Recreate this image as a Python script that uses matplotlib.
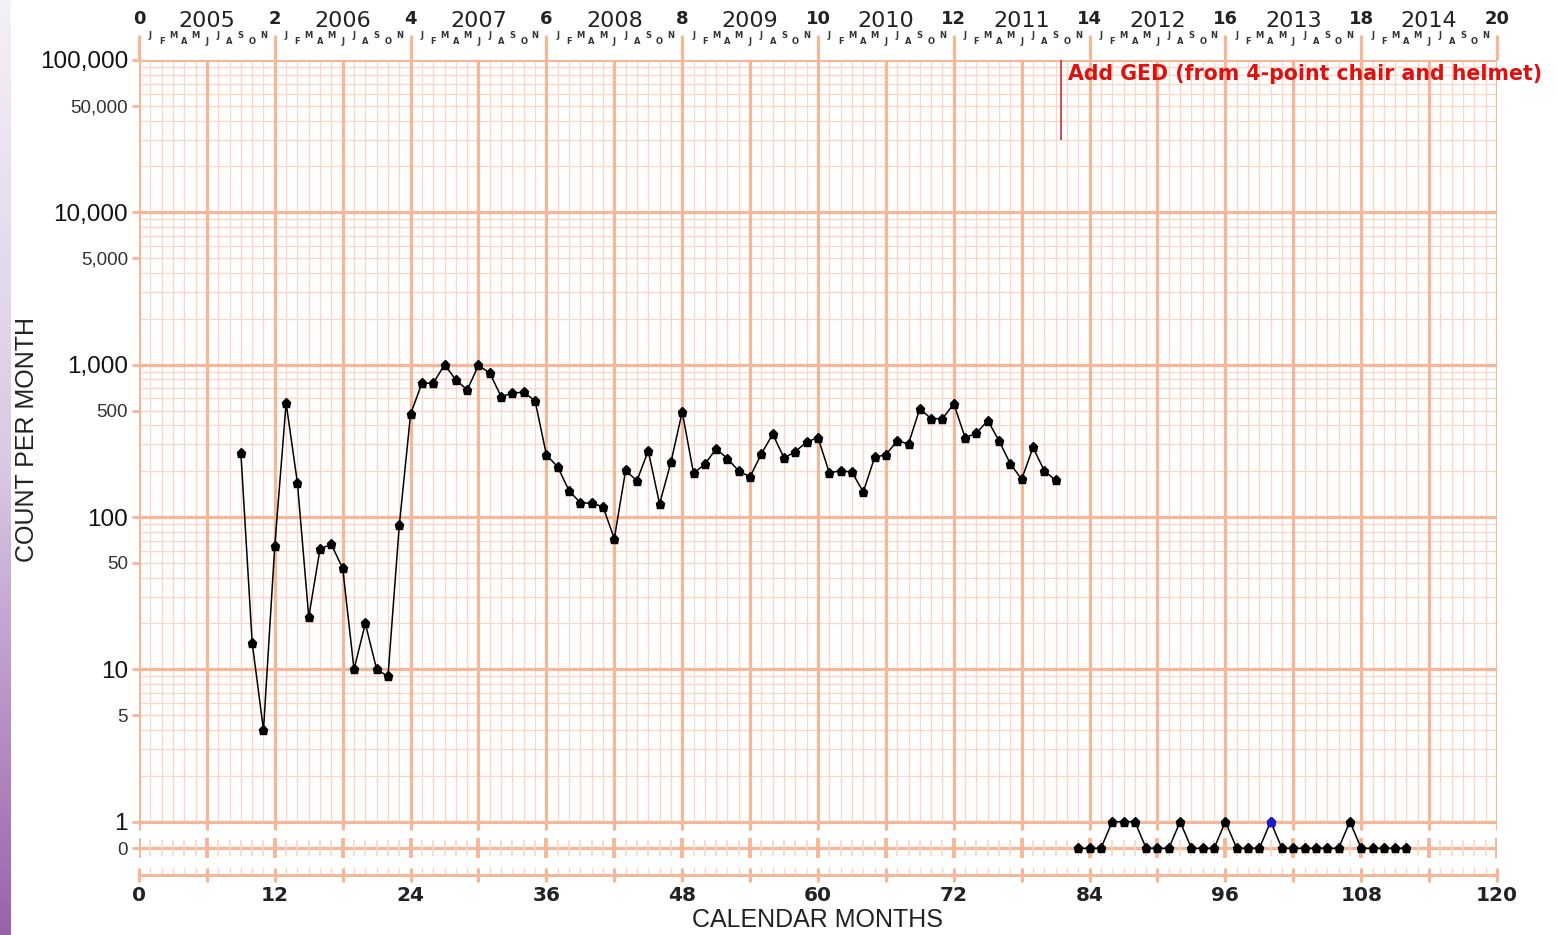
import numpy as np
import matplotlib.pyplot as plt
from matplotlib.colors import LinearSegmentedColormap

# dados (contagem por mes)
meses_a = np.arange(9, 82)
contagem_a = [265, 15, 4, 65, 560, 167, 22, 62, 66, 46, 10, 20, 10, 9, 88, 475,
              755, 755, 1000, 795, 683, 990, 880, 618, 650, 660, 578,
              256, 213, 149, 124, 123, 117, 72, 202, 173, 272, 122, 228, 490,
              194, 222, 280, 242, 200, 184, 260, 350, 244, 269, 311, 332,
              195, 201, 197, 146, 246, 257, 316, 303, 515, 441, 443, 553,
              332, 355, 430, 316, 223, 177, 286, 201, 174]

meses_b = np.arange(83, 113)
contagem_b = [0, 0, 0, 1, 1, 1, 0, 0, 0, 1, 0, 0, 0, 1, 0, 0, 0, 1,
              0, 0, 0, 0, 0, 0, 1, 0, 0, 0, 0, 0]

mes_azul = [100]
contagem_azul = [1]

anos = list(range(2005, 2015))
letras_mes = ['J', 'F', 'M', 'A', 'M', 'J', 'J', 'A', 'S', 'O', 'N']
y_ticks = [0, 1, 5, 10, 50, 100, 500, 1000, 5000, 10000, 50000, 100000]
y_labels = ['0', '1', '5', '10', '50', '100', '500', '1,000', '5,000',
            '10,000', '50,000', '100,000']
anotacao = 'Add GED (from 4-point chair and helmet)'
mes_anotacao = 81.5

GROSSA = '#F6B698'
FINA = '#F9D6C5'
NARROW = ['Liberation Sans Narrow', 'DejaVu Sans Condensed', 'DejaVu Sans']
ARIAL = ['Liberation Sans', 'DejaVu Sans']

# escala: log acima de 1, linear (faixa do zero) abaixo
K = 0.175


def fwd(v):
    v = np.asarray(v, dtype=float)
    return np.where(v >= 1, np.log10(np.maximum(v, 1)), (v - 1) * K)


def inv(y):
    y = np.asarray(y, dtype=float)
    return np.where(y >= 0, 10 ** np.clip(y, 0, 12), y / K + 1)


fig = plt.figure(figsize=(15.58, 9.35), dpi=100)

# faixa roxa na esquerda
faixa = fig.add_axes([0, 0, 11 / 1558, 1])
cmap = LinearSegmentedColormap.from_list('roxo', ['#f4f0f7', '#d9c8e3', '#9a62ad'])
faixa.imshow(np.linspace(0, 1, 200).reshape(-1, 1), aspect='auto', cmap=cmap)
faixa.axis('off')

ax = fig.add_axes([139 / 1558, 1 - 875 / 935, 1358 / 1558, 815 / 935])
ax.set_yscale('function', functions=(fwd, inv))
ax.set_xlim(0, 120)
ax.set_ylim(-1, 1e5)

# grade
todos = np.arange(0, 121)
finos = todos[todos % 6 != 0]
seis = np.arange(0, 121, 6)
doze = np.arange(0, 121, 12)
menores = [m * 10 ** d for d in range(5) for m in range(2, 10)]
decadas = [1, 10, 100, 1000, 10000, 100000]

ax.hlines(menores, 0, 120, color=FINA, lw=0.9, zorder=1)
ax.vlines(finos, 1, 1e5, color=FINA, lw=0.9, zorder=1)
ax.hlines(decadas, 0, 120, color=GROSSA, lw=2.3, zorder=2)
ax.vlines(seis, 0.7, 1e5, color=GROSSA, lw=2.3, zorder=2)
ax.vlines(doze, 1e5, 1.46e5, color=GROSSA, lw=2.3, zorder=2, clip_on=False)

# faixa do zero
ax.hlines(0, 0, 120, color=GROSSA, lw=2.3, zorder=2)
ax.vlines(finos, -0.28, 0.33, color=FINA, lw=1.2, zorder=2)
ax.vlines(seis, -0.35, 0.4, color=GROSSA, lw=2.8, zorder=2)

# dados
ax.plot(meses_a, contagem_a, color='black', lw=1.1, marker='p', ms=6.5, zorder=5)
ax.plot(meses_b, contagem_b, color='black', lw=1.1, marker='p', ms=6.5, zorder=5)
ax.plot(mes_azul, contagem_azul, ls='none', marker='p', ms=6.5, color='#1a1acc', zorder=6)

# anotacao
ax.vlines(mes_anotacao, 3e4, 1e5, color='#C03040', lw=1.2, zorder=4)
ax.text(mes_anotacao + 0.6, 8.1e4, anotacao, color='#DD1111', fontsize=14.8,
        fontweight='bold', family='DejaVu Sans', va='center', clip_on=False, zorder=6)

# eixos
for lado in ['left', 'right', 'top']:
    ax.spines[lado].set_visible(False)
ax.spines['bottom'].set_color(GROSSA)
ax.spines['bottom'].set_linewidth(2.2)

ax.set_xticks(seis)
ax.set_xticklabels([str(m) if m % 12 == 0 else '' for m in seis],
                   fontsize=14.5, fontweight='bold', family=NARROW)
ax.set_xticks(finos, minor=True)
ax.tick_params(axis='x', which='major', direction='inout', length=10, width=2.3,
               color=GROSSA, pad=3, labelcolor='#222222')
ax.tick_params(axis='x', which='minor', direction='in', length=6, width=1,
               color=FINA)

ax.set_yticks(y_ticks)
ax.set_yticklabels(y_labels, family=ARIAL, color='#222222')
ax.yaxis.set_minor_locator(plt.NullLocator())
ax.tick_params(axis='y', which='major', length=5, width=2, color=GROSSA, pad=3)
for t, lab in zip(ax.get_yticklabels(), y_labels):
    if lab in ['1', '10', '100', '1,000', '10,000', '100,000']:
        t.set_fontsize(17.5)
        t.set_color('#111111')
    else:
        t.set_fontsize(13.5)
        t.set_color('#333333')

ax.set_xlabel('CALENDAR MONTHS', fontsize=18, family=ARIAL, color='#222222', labelpad=2)
ax.set_ylabel('COUNT PER MONTH', fontsize=18, family=ARIAL, color='#222222')
ax.yaxis.set_label_coords(-0.074, 0.534)

# eixo de cima: numeros, anos e meses
sec = ax.secondary_xaxis('top', functions=(lambda m: m / 6, lambda t: t * 6))
sec.set_xticks(range(0, 21, 2))
sec.set_xticklabels([str(t) for t in range(0, 21, 2)], fontsize=13,
                    fontweight='bold', family=NARROW, color='#222222')
sec.tick_params(length=0, pad=23)
sec.spines['top'].set_visible(False)

tr = ax.get_xaxis_transform()
for i, ano in enumerate(anos):
    ax.text(6 + 12 * i, 1.0356, str(ano), transform=tr, ha='center', va='bottom',
            fontsize=16, family=NARROW, color='#222222')
    for j, letra in enumerate(letras_mes):
        alto = j % 2 == 0
        ax.text(12 * i + j + 1, 1.0245 if alto else 1.0172, letra, transform=tr,
                ha='center', va='bottom', fontsize=6, fontweight='bold',
                family='DejaVu Sans', color='#333333')

fig.savefig('out.png', dpi=100)
